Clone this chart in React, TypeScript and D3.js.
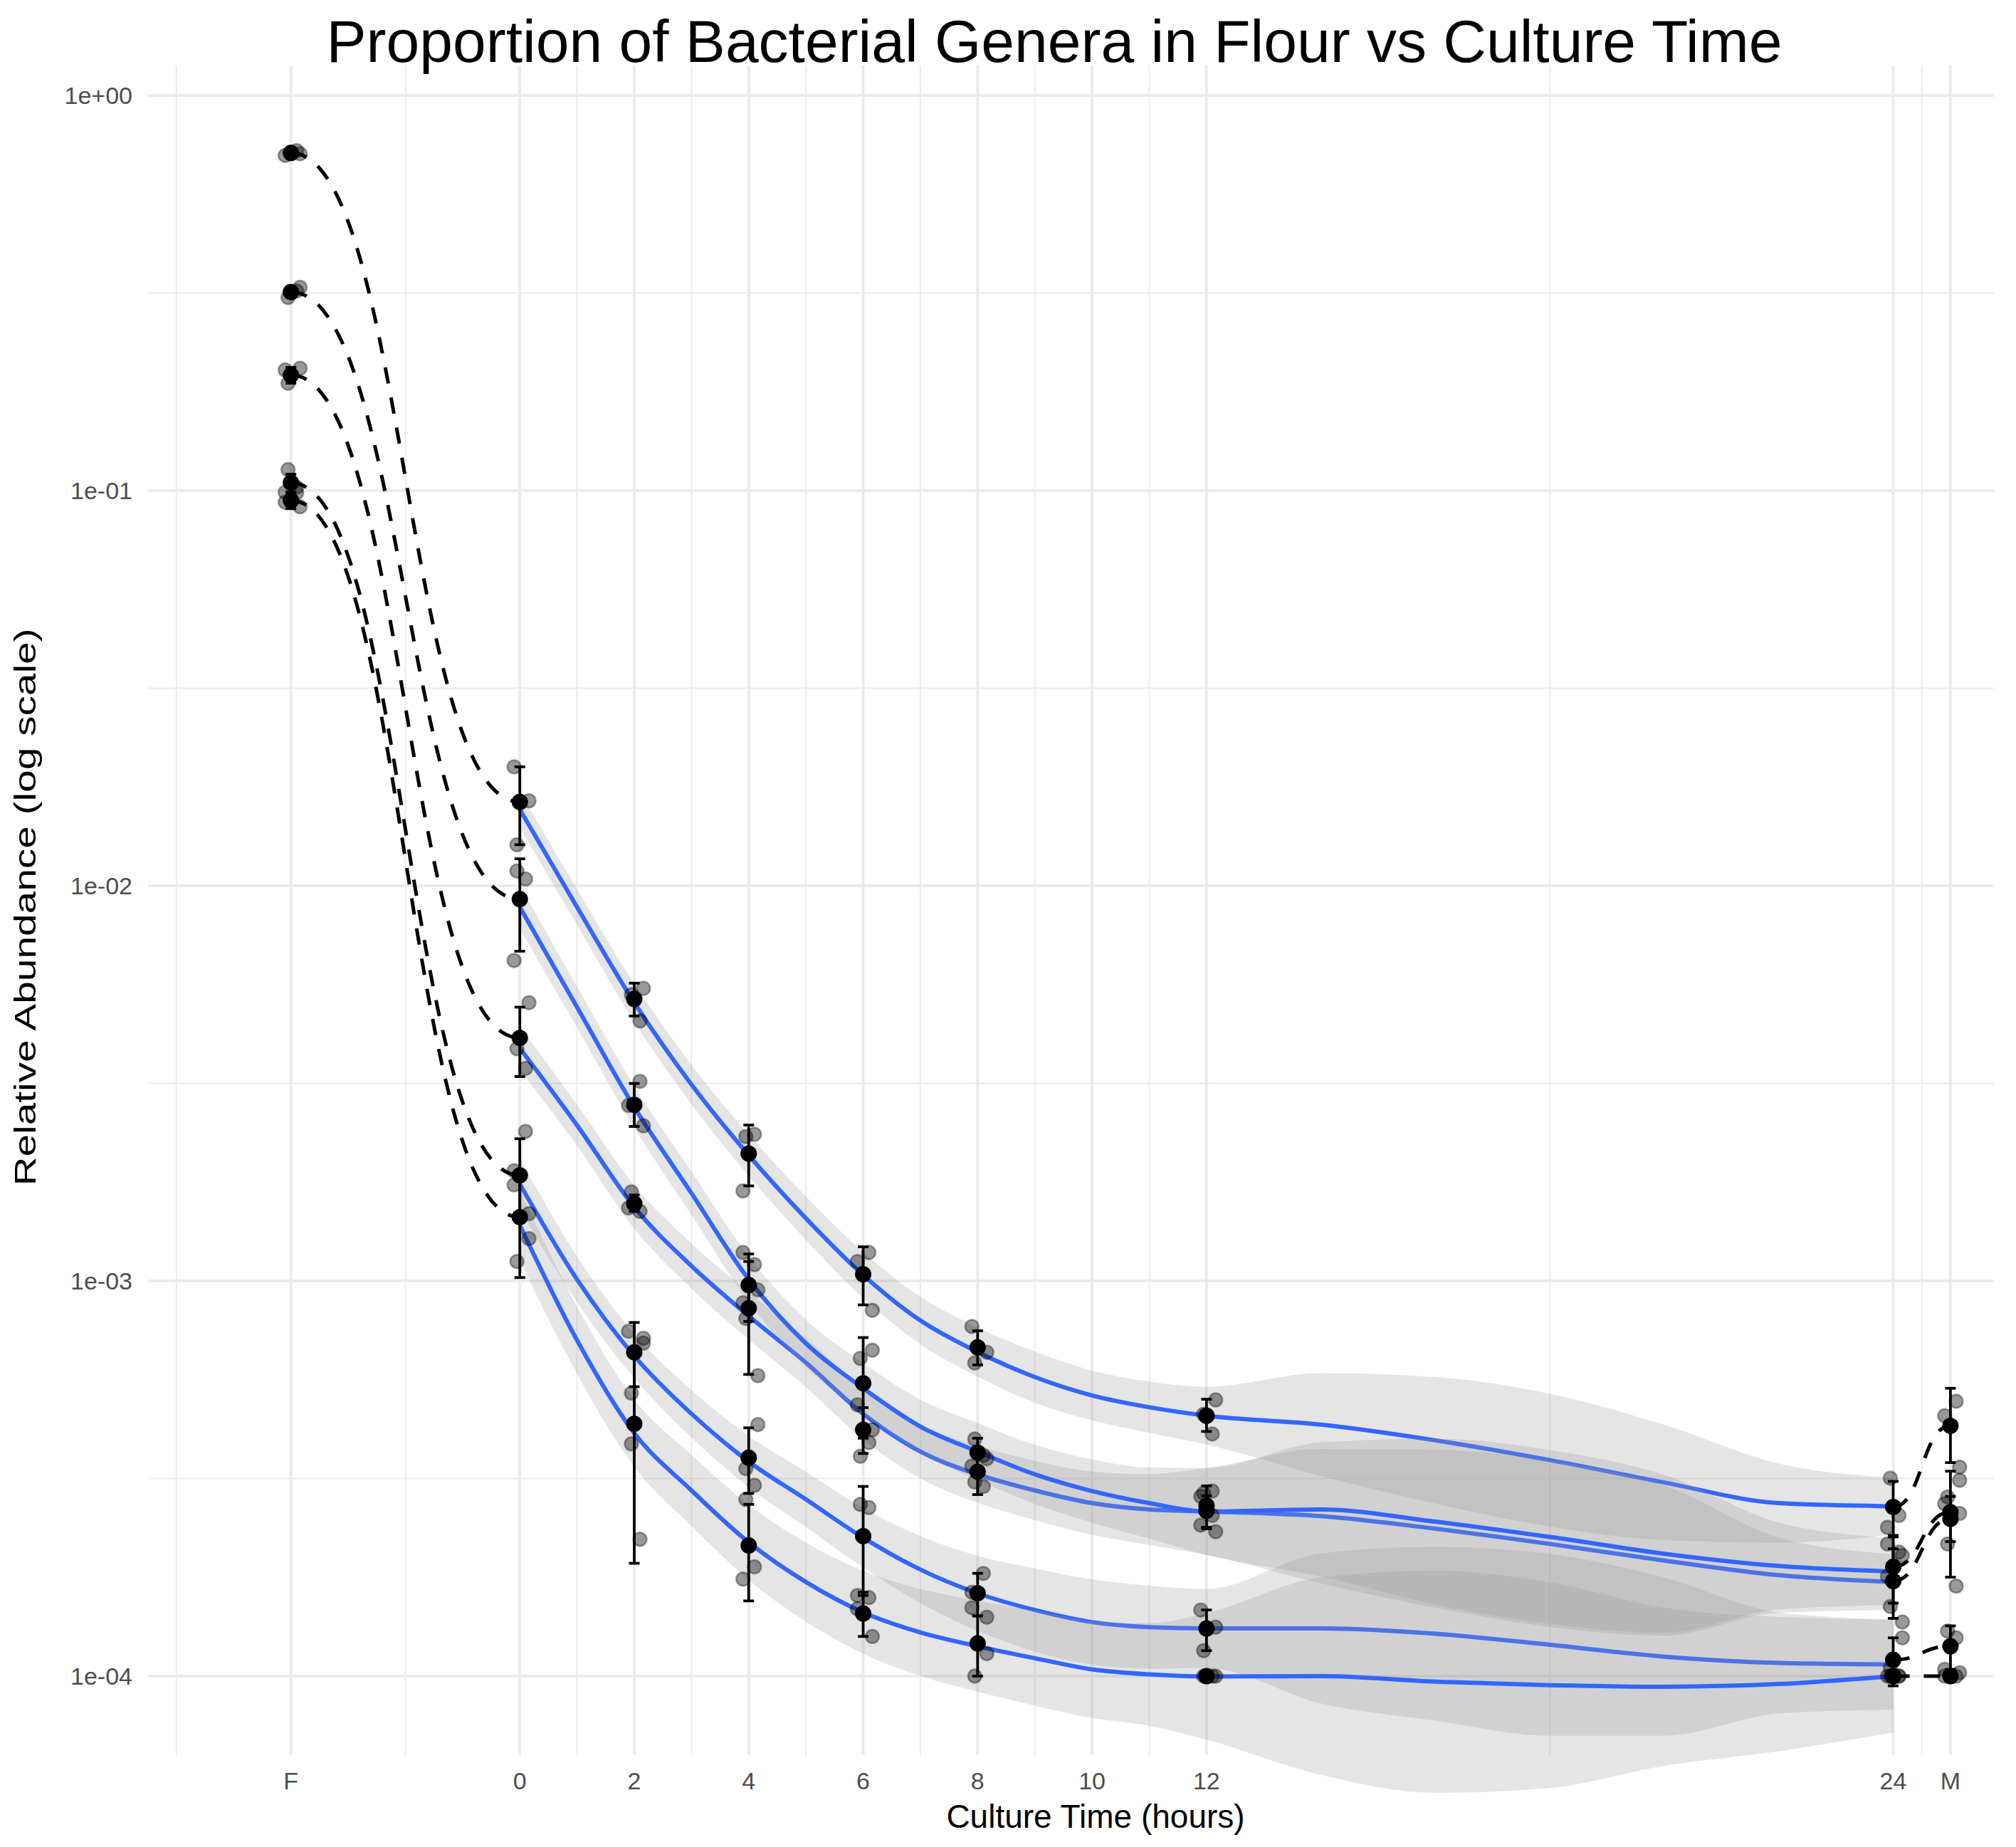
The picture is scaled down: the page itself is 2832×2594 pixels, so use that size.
import { useEffect, useRef } from 'react';
import * as d3 from 'd3';

// Sampling times: flour (F), hours of culture, and the mature culture (M)
const timeHours = [-4, 0, 2, 4, 6, 8, 12, 24, 25];

// x axis breaks (10 h has a break but no sample)
const axisHours = [-4, 0, 2, 4, 6, 8, 10, 12, 24, 25];
const axisLabels = ['F', '0', '2', '4', '6', '8', '10', '12', '24', 'M'];
const minorHours = [-6, -2, 1, 3, 5, 7, 9, 11, 18, 24.5];

const yBreaks = [1, 1e-1, 1e-2, 1e-3, 1e-4];
const yBreakLabels = ['1e+00', '1e-01', '1e-02', '1e-03', '1e-04'];
const yMinorBreaks = [0.31623, 0.031623, 0.0031623, 0.00031623];

// Genus A (highest abundance)
const meanA = [0.715, 0.0163, 0.00517, 0.0021, 0.00104, 0.000679, 0.000456, 0.000268, 0.00043];
const lowA = [0.7, 0.0127, 0.00468, 0.00174, 0.00087, 0.000613, 0.000416, 0.000227, 0.000347];
const highA = [0.73, 0.02, 0.00567, 0.00248, 0.00122, 0.000748, 0.000502, 0.000311, 0.000535];
const repsA = [
  [0.725, 0.705, 0.712], [0.02, 0.0164, 0.0127], [0.0055, 0.0053, 0.00455],
  [0.00232, 0.00235, 0.00169], [0.00118, 0.00112, 0.000843], [0.000767, 0.00066, 0.00062],
  [0.0005, 0.00046, 0.00041], [0.000317, 0.000255, 0.000238], [0.000496, 0.000456, 0.000338],
];

// Genus B
const meanB = [0.318, 0.00925, 0.00279, 0.000976, 0.000551, 0.000368, 0.00027, 0.000189, 0.00026];
const lowB = [0.308, 0.00683, 0.00246, 0.00079, 0.0004, 0.000335, 0.000236, 0.000153, 0.000178];
const highB = [0.328, 0.0117, 0.00316, 0.00117, 0.000719, 0.0004, 0.000303, 0.000225, 0.00033];
const repsB = [
  [0.327, 0.308, 0.32], [0.0109, 0.0104, 0.00647], [0.0032, 0.00278, 0.00247],
  [0.00118, 0.000949, 0.000804], [0.000668, 0.000637, 0.00039], [0.000398, 0.000362, 0.00034],
  [0.000294, 0.000285, 0.000232], [0.000216, 0.000202, 0.00015], [0.000313, 0.000284, 0.000169],
];

// Genus C
const meanC = [0.196, 0.00412, 0.00157, 0.000853, 0.00042, 0.000329, 0.000262, 0.000174, 0.00025];
const lowC = [0.187, 0.00329, 0.0015, 0.00058, 0.000366, 0.000288, 0.000238, 0.00014, 0.000219];
const highC = [0.205, 0.00493, 0.00165, 0.00112, 0.000478, 0.00036, 0.000286, 0.00021, 0.000285];
const repsC = [
  [0.202, 0.204, 0.187], [0.00506, 0.00387, 0.00345], [0.00168, 0.0015, 0.00153],
  [0.0011, 0.00088, 0.000576], [0.000486, 0.00042, 0.00036], [0.000355, 0.00031, 0.000302],
  [0.00029, 0.000255, 0.000241], [0.000206, 0.000179, 0.000137], [0.000273, 0.000258, 0.000216],
];

// Genus D
const meanD = [0.1047, 0.00185, 0.00066, 0.000357, 0.000226, 0.000162, 0.000132, 0.00011, 0.000119];
const lowD = [0.099, 0.00142, 0.00054, 0.00029, 0.00016, 0.000142, 0.000116, 0.0000945, 0.000104];
const highD = [0.11, 0.00229, 0.000785, 0.000425, 0.000302, 0.000182, 0.000147, 0.000125, 0.000134];
const repsD = [
  [0.113, 0.102, 0.099], [0.00239, 0.0019, 0.00128], [0.000746, 0.000716, 0.00052],
  [0.000433, 0.000335, 0.000304], [0.000272, 0.000267, 0.00016], [0.000182, 0.000163, 0.000141],
  [0.000147, 0.000133, 0.000116], [0.000125, 0.000105, 0.0001], [0.00013, 0.000125, 0.000104],
];

// Genus E (lowest abundance)
const meanE = [0.0944, 0.00145, 0.000435, 0.000214, 0.000144, 0.000121, 0.0001, 0.0001, 0.0001];
const lowE = [0.09, 0.00102, 0.000193, 0.000155, 0.000126, 0.0001, 0.0001, 0.0001, 0.0001];
const highE = [0.099, 0.00188, 0.000677, 0.000272, 0.000163, 0.000142, 0.0001, 0.0001, 0.000102];
const repsE = [
  [0.0987, 0.0935, 0.091], [0.00175, 0.00148, 0.00112], [0.000696, 0.000387, 0.000222],
  [0.00028, 0.000189, 0.000176], [0.000158, 0.000148, 0.000126], [0.000149, 0.000114, 0.0001],
  [0.0001, 0.0001, 0.0001], [0.0001, 0.0001, 0.0001], [0.0001, 0.0001, 0.000102],
];

// Loess fits over 0-24 h, with the half-width of the confidence band in log10 units
const smoothHours = [0, 1, 2, 3, 4, 5, 6, 7, 8, 9, 10, 11, 12, 14, 16, 18, 20, 22, 24];
const fitA = [0.0156, 0.00883, 0.00506, 0.00314, 0.00208, 0.00144, 0.001035, 0.000794, 0.000661, 0.000571, 0.000513, 0.000479, 0.000456, 0.000433, 0.000395, 0.000352, 0.000309, 0.000274, 0.000269];
const ciA = [0.045, 0.045, 0.048, 0.05, 0.052, 0.055, 0.058, 0.06, 0.062, 0.065, 0.063, 0.065, 0.073, 0.13, 0.16, 0.168, 0.146, 0.1, 0.072];
const fitB = [0.00883, 0.00493, 0.002754, 0.001667, 0.001009, 0.000695, 0.000535, 0.000428, 0.00037, 0.000324, 0.000294, 0.000274, 0.000261, 0.000264, 0.000246, 0.000225, 0.000204, 0.00019, 0.000184];
const ciB = [0.055, 0.052, 0.052, 0.055, 0.058, 0.06, 0.064, 0.068, 0.072, 0.075, 0.08, 0.09, 0.11, 0.17, 0.21, 0.22, 0.2, 0.11, 0.085];
const fitC = [0.00388, 0.002477, 0.001538, 0.001091, 0.000815, 0.000621, 0.000461, 0.00037, 0.000324, 0.000295, 0.000274, 0.000264, 0.000261, 0.000254, 0.000236, 0.000216, 0.000196, 0.00018, 0.000173];
const ciC = [0.055, 0.052, 0.055, 0.057, 0.06, 0.062, 0.065, 0.068, 0.072, 0.075, 0.08, 0.09, 0.11, 0.17, 0.2, 0.21, 0.19, 0.095, 0.071];
const fitD = [0.001758, 0.001009, 0.000646, 0.000461, 0.000349, 0.00028, 0.000224, 0.000186, 0.000162, 0.000147, 0.000137, 0.000133, 0.000132, 0.000132, 0.000128, 0.00012, 0.000112, 0.000108, 0.000107];
const ciD = [0.065, 0.058, 0.056, 0.06, 0.065, 0.07, 0.075, 0.085, 0.095, 0.105, 0.108, 0.105, 0.1, 0.19, 0.22, 0.23, 0.2, 0.128, 0.114];
const fitE = [0.001384, 0.000708, 0.000412, 0.000295, 0.000218, 0.000173, 0.000145, 0.000129, 0.000119, 0.000111, 0.000104, 0.000101, 0.0000998, 0.0001, 0.0000968, 0.0000948, 0.000094, 0.0000955, 0.0001];
const ciE = [0.09, 0.085, 0.085, 0.09, 0.095, 0.1, 0.105, 0.11, 0.115, 0.12, 0.123, 0.13, 0.16, 0.25, 0.281, 0.26, 0.2, 0.17, 0.143];

interface Genus {
  mean: number[];
  low: number[];
  high: number[];
  reps: number[][];
  fit: number[];
  ci: number[];
}

// drawing order of the smooth layers
const genera: Genus[] = [
  { mean: meanA, low: lowA, high: highA, reps: repsA, fit: fitA, ci: ciA },
  { mean: meanC, low: lowC, high: highC, reps: repsC, fit: fitC, ci: ciC },
  { mean: meanB, low: lowB, high: highB, reps: repsB, fit: fitB, ci: ciB },
  { mean: meanD, low: lowD, high: highD, reps: repsD, fit: fitD, ci: ciD },
  { mean: meanE, low: lowE, high: highE, reps: repsE, fit: fitE, ci: ciE },
];

const JITTER = [0.1, -0.1, 0.16, -0.05];
const FONT = '"Liberation Sans", Arial, sans-serif';

export default function App() {
  const svgRef = useRef<SVGSVGElement>(null);

  useEffect(() => {
    if (!svgRef.current) return;
    const width = 2832;
    const height = 2594;

    const svg = d3.select(svgRef.current);
    svg.selectAll('*').remove();
    svg
      .attr('width', width)
      .attr('height', height)
      .attr('viewBox', `0 0 ${width} ${height}`)
      .style('display', 'block');

    svg.append('rect').attr('width', width).attr('height', height).attr('fill', '#ffffff');

    const panel = { left: 208.5, right: 2801, top: 92, bottom: 2465 };

    const x = d3.scaleLinear().domain([-6.49, 25.76]).range([panel.left, panel.right]);
    const y = d3
      .scaleLog()
      .domain([10 ** 0.0757, 10 ** -4.2])
      .range([panel.top, panel.bottom]);

    // grid (theme_minimal style)
    const grid = svg.append('g').attr('stroke', '#ebebeb').attr('fill', 'none');
    grid
      .selectAll('line.ymin')
      .data(yMinorBreaks)
      .join('line')
      .attr('x1', panel.left)
      .attr('x2', panel.right)
      .attr('y1', (d) => y(d))
      .attr('y2', (d) => y(d))
      .attr('stroke-width', 2);
    grid
      .selectAll('line.xmin')
      .data(minorHours)
      .join('line')
      .attr('x1', (d) => x(d))
      .attr('x2', (d) => x(d))
      .attr('y1', panel.top)
      .attr('y2', panel.bottom)
      .attr('stroke-width', 2);
    grid
      .selectAll('line.ymaj')
      .data(yBreaks)
      .join('line')
      .attr('x1', panel.left)
      .attr('x2', panel.right)
      .attr('y1', (d) => y(d))
      .attr('y2', (d) => y(d))
      .attr('stroke-width', 4);
    grid
      .selectAll('line.xmaj')
      .data(axisHours)
      .join('line')
      .attr('x1', (d) => x(d))
      .attr('x2', (d) => x(d))
      .attr('y1', panel.top)
      .attr('y2', panel.bottom)
      .attr('stroke-width', 4);

    // smooth ribbons and fitted lines, one genus after another
    const smoothLayer = svg.append('g');
    genera.forEach((g) => {
      const rows = smoothHours.map((t, i) => ({
        t,
        fit: g.fit[i],
        lo: g.fit[i] / 10 ** g.ci[i],
        hi: g.fit[i] * 10 ** g.ci[i],
      }));
      const area = d3
        .area<(typeof rows)[number]>()
        .x((d) => x(d.t))
        .y0((d) => y(d.lo))
        .y1((d) => y(d.hi))
        .curve(d3.curveMonotoneX);
      const line = d3
        .line<(typeof rows)[number]>()
        .x((d) => x(d.t))
        .y((d) => y(d.fit))
        .curve(d3.curveMonotoneX);
      smoothLayer
        .append('path')
        .datum(rows)
        .attr('d', area)
        .attr('fill', '#999999')
        .attr('fill-opacity', 0.25);
      smoothLayer
        .append('path')
        .datum(rows)
        .attr('d', line)
        .attr('fill', 'none')
        .attr('stroke', '#3366ff')
        .attr('stroke-width', 6);
    });

    // replicate points
    const pts = svg.append('g');
    genera.forEach((g, gi) => {
      g.reps.forEach((vals, ti) => {
        vals.forEach((v, k) => {
          pts
            .append('circle')
            .attr('cx', x(timeHours[ti] + JITTER[(k + gi + ti) % JITTER.length]))
            .attr('cy', y(v))
            .attr('r', 9.5)
            .attr('fill', '#000')
            .attr('fill-opacity', 0.4)
            .attr('stroke', '#000')
            .attr('stroke-opacity', 0.35)
            .attr('stroke-width', 2.5);
        });
      });
    });

    // dashed links: flour -> 0 h and 24 h -> mature culture
    const bump = d3
      .line<[number, number]>()
      .x((d) => x(d[0]))
      .y((d) => y(d[1]))
      .curve(d3.curveBumpX);
    const dashed = svg.append('g');
    const last = timeHours.length - 1;
    genera.forEach((g) => {
      const segs: [number, number][][] = [
        [
          [timeHours[0], g.mean[0]],
          [timeHours[1], g.mean[1]],
        ],
        [
          [timeHours[last - 1], g.mean[last - 1]],
          [timeHours[last], g.mean[last]],
        ],
      ];
      segs.forEach((s) => {
        dashed
          .append('path')
          .attr('d', bump(s))
          .attr('fill', 'none')
          .attr('stroke', '#000')
          .attr('stroke-width', 5)
          .attr('stroke-dasharray', '23 20');
      });
    });

    // error bars and means
    const bars = svg.append('g').attr('stroke', '#000').attr('stroke-width', 3.8);
    const capHalf = 7.5;
    genera.forEach((g) => {
      timeHours.forEach((t, i) => {
        const cx = x(t);
        const y0 = y(g.low[i]);
        const y1 = y(g.high[i]);
        bars.append('line').attr('x1', cx).attr('x2', cx).attr('y1', y0).attr('y2', y1);
        bars.append('line').attr('x1', cx - capHalf).attr('x2', cx + capHalf).attr('y1', y0).attr('y2', y0);
        bars.append('line').attr('x1', cx - capHalf).attr('x2', cx + capHalf).attr('y1', y1).attr('y2', y1);
      });
    });
    const means = svg.append('g');
    genera.forEach((g) => {
      means
        .selectAll(null)
        .data(g.mean)
        .join('circle')
        .attr('cx', (_, i) => x(timeHours[i]))
        .attr('cy', (d) => y(d))
        .attr('r', 11.5)
        .attr('fill', '#000');
    });

    // axis tick labels
    svg
      .append('g')
      .selectAll('text')
      .data(yBreaks)
      .join('text')
      .attr('x', 186)
      .attr('y', (d) => y(d))
      .attr('dy', '0.36em')
      .attr('text-anchor', 'end')
      .attr('font-family', FONT)
      .attr('font-size', 34)
      .attr('fill', '#4d4d4d')
      .text((_, i) => yBreakLabels[i]);

    svg
      .append('g')
      .selectAll('text')
      .data(axisHours)
      .join('text')
      .attr('x', (d) => x(d))
      .attr('y', 2513)
      .attr('text-anchor', 'middle')
      .attr('font-family', FONT)
      .attr('font-size', 34)
      .attr('fill', '#4d4d4d')
      .text((_, i) => axisLabels[i]);

    // axis titles
    svg
      .append('text')
      .attr('x', 1539)
      .attr('y', 2567)
      .attr('text-anchor', 'middle')
      .attr('font-family', FONT)
      .attr('font-size', 46)
      .attr('fill', '#000')
      .text('Culture Time (hours)');

    svg
      .append('text')
      .attr('transform', 'translate(50,1274) rotate(-90)')
      .attr('text-anchor', 'middle')
      .attr('font-family', FONT)
      .attr('font-size', 42)
      .attr('fill', '#000')
      .attr('textLength', 783)
      .attr('lengthAdjust', 'spacingAndGlyphs')
      .text('Relative Abundance (log scale)');

    // title
    svg
      .append('text')
      .attr('x', 1481)
      .attr('y', 87)
      .attr('text-anchor', 'middle')
      .attr('font-family', FONT)
      .attr('font-size', 84)
      .attr('fill', '#000')
      .text('Proportion of Bacterial Genera in Flour vs Culture Time');
  }, []);

  return (
    <div style={{ position: 'absolute', left: 0, top: 0 }}>
      <svg ref={svgRef} />
    </div>
  );
}
